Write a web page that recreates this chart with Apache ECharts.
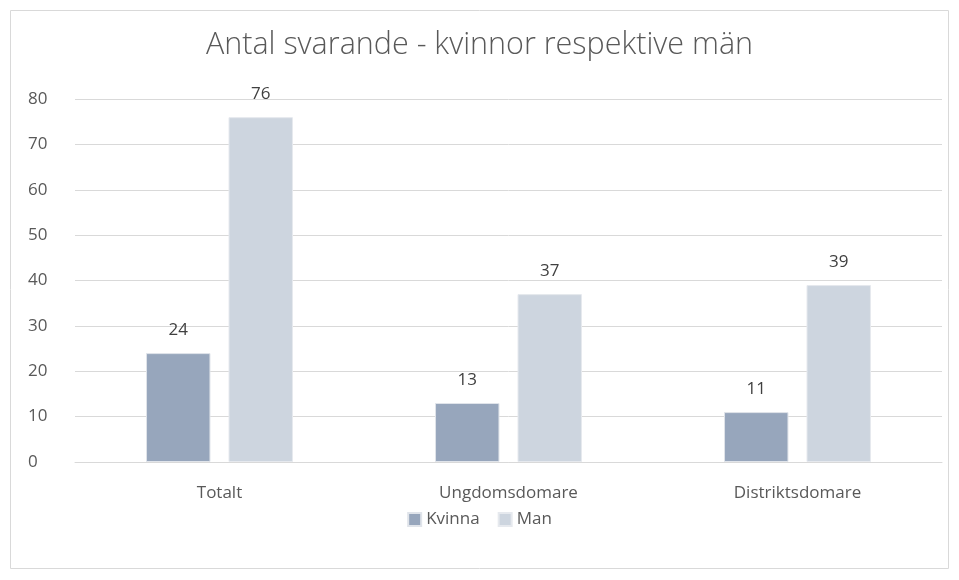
<!DOCTYPE html>
<html><head><meta charset="utf-8">
<script src="https://cdn.jsdelivr.net/npm/echarts@6/dist/echarts.min.js"></script>
<style>html,body{margin:0;padding:0;background:#fff}#c{width:959px;height:580px}</style>
</head><body><div id="c"></div>
<script>
const categories = ['Totalt', 'Ungdomsdomare', 'Distriktsdomare'];
const kvinna = [24, 13, 11];
const man = [76, 37, 39];
const yTicks = [0, 10, 20, 30, 40, 50, 60, 70, 80];

const chart = echarts.init(document.getElementById('c'));
const lbl = {show: true, position: 'top', color: '#404040', fontSize: 17, fontFamily: 'Open Sans', distance: 14};
chart.setOption({
  animation: false,
  graphic: [{type: 'rect', shape: {x: 10.5, y: 10.5, width: 938, height: 558}, style: {fill: 'none', stroke: '#d9d9d9', lineWidth: 1}}],
  title: {text: 'Antal svarande - kvinnor respektive män', left: 'center', top: 25,
    textStyle: {fontFamily: 'Open Sans', fontWeight: 300, fontSize: 30.5, color: '#595959'}},
  legend: {data: ['Kvinna', 'Man'], bottom: 47, left: 'center', itemWidth: 13, itemHeight: 13, itemGap: 18, icon: 'rect',
    textStyle: {fontFamily: 'Open Sans', fontSize: 17, color: '#595959'}},
  grid: {left: 75, right: 17, top: 99, bottom: 118, containLabel: false},
  xAxis: {type: 'category', data: categories,
    axisLine: {lineStyle: {color: '#d9d9d9'}}, axisTick: {show: false},
    axisLabel: {fontFamily: 'Open Sans', fontSize: 17, color: '#595959', margin: 23}},
  yAxis: {type: 'value', min: yTicks[0], max: yTicks[yTicks.length-1], interval: 10,
    axisLine: {show: false}, axisTick: {show: false},
    splitLine: {lineStyle: {color: '#d9d9d9'}},
    axisLabel: {fontFamily: 'Open Sans', fontSize: 17, color: '#595959', margin: 47, align: 'left'}},
  series: [
    {name: 'Kvinna', type: 'bar', data: kvinna, barWidth: '22.3%', barGap: '28%',
      itemStyle: {color: '#97a6bc', borderColor: '#e0e4ea', borderWidth: 1}, label: lbl},
    {name: 'Man', type: 'bar', data: man, barWidth: '22.3%',
      itemStyle: {color: '#cdd5df', borderColor: '#e6e9ee', borderWidth: 1}, label: lbl}
  ]
});
</script></body></html>
